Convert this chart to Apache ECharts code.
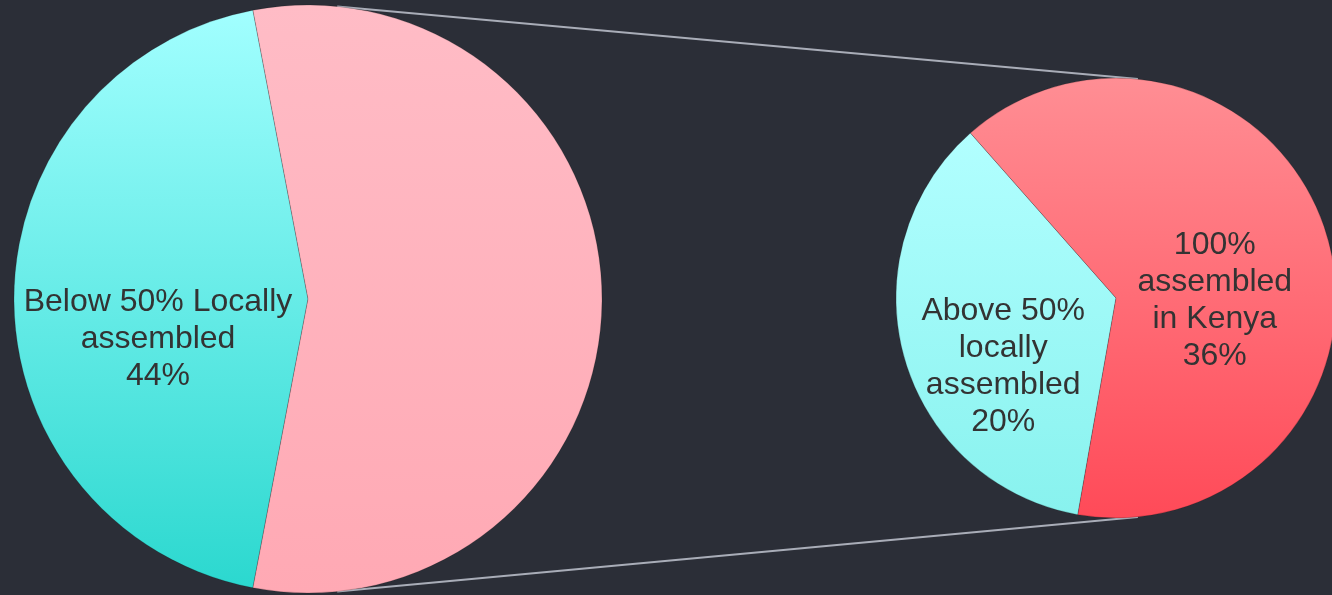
<!DOCTYPE html>
<html style="height: 100%">
<head>
  <meta charset="UTF-8">
  <title>pie of pie</title>
  <script src="https://cdn.jsdelivr.net/npm/echarts@6/dist/echarts.min.js"></script>
</head>
<body style="height: 100%; margin: 0; background: #2b2e37">
<div id="container" style="width: 1332px; height: 595px"></div>
<script type="text/javascript">
  // main pie
  var mainNames = ['Below 50% Locally\nassembled', ''];
  var mainValues = [44, 56];
  // breakdown of the 56% slice
  var subNames = ['Above 50%\nlocally\nassembled', '100%\nassembled\nin Kenya'];
  var subValues = [20, 36];

  var mainCenter = [308, 299], mainR = 294;
  var subCenter = [1116, 298], subR = 220;

  function grad(top, bottom) {
    return new echarts.graphic.LinearGradient(0, 0, 0, 1, [
      { offset: 0, color: top },
      { offset: 1, color: bottom }
    ]);
  }

  // connector lines, from pie edges a few degrees off vertical
  var a = 5.7 * Math.PI / 180;
  function edge(c, r, up) {
    return [c[0] + r * Math.sin(a), c[1] + (up ? -1 : 1) * r * Math.cos(a)];
  }
  var t1 = edge(mainCenter, mainR, true), t2 = edge(subCenter, subR, true);
  var b1 = edge(mainCenter, mainR, false), b2 = edge(subCenter, subR, false);

  var chart = echarts.init(document.getElementById('container'), null, { renderer: 'canvas' });

  var labelStyle = {
    show: true,
    position: 'inside',
    formatter: function (p) {
      return p.name ? p.name + '\n' + p.value + '%' : '';
    },
    color: '#333333',
    fontFamily: '"Liberation Sans", Arial, sans-serif',
    fontSize: 32,
    lineHeight: 37,
    align: 'center'
  };

  var subColors = [grad('#b2ffff', '#88f2ee'), grad('#ff8e94', '#ff4a58')];
  var subOffsets = [[-4, 38], [-10, 33]];

  var option = {
    backgroundColor: '#2b2e37',
    animation: false,
    graphic: [
      { type: 'line', z: -1, shape: { x1: t1[0], y1: t1[1], x2: t2[0], y2: t2[1] }, style: { stroke: '#a9adb8', lineWidth: 2 } },
      { type: 'line', z: -1, shape: { x1: b1[0], y1: b1[1], x2: b2[0], y2: b2[1] }, style: { stroke: '#a9adb8', lineWidth: 2 } }
    ],
    series: [
      {
        type: 'pie',
        center: mainCenter,
        radius: [0, mainR],
        // first slice centred on 9 o'clock
        startAngle: 180 + mainValues[0] / 100 * 180,
        clockwise: true,
        silent: true,
        label: Object.assign({}, labelStyle, { offset: [0, 40] }),
        labelLine: { show: false },
        itemStyle: { borderColor: 'rgba(0,0,0,0.18)', borderWidth: 1 },
        data: mainValues.map(function (v, i) {
          return {
            name: mainNames[i],
            value: v,
            itemStyle: { color: i === 0 ? grad('#a2ffff', '#2bd8cf') : grad('#ffbcc6', '#ffa9b4') }
          };
        })
      },
      {
        type: 'pie',
        center: subCenter,
        radius: [0, subR],
        startAngle: 260,
        clockwise: true,
        silent: true,
        label: labelStyle,
        labelLine: { show: false },
        itemStyle: { borderColor: 'rgba(0,0,0,0.18)', borderWidth: 1 },
        data: subValues.map(function (v, i) {
          return {
            name: subNames[i],
            value: v,
            label: { offset: subOffsets[i] },
            itemStyle: { color: subColors[i] }
          };
        })
      }
    ]
  };
  chart.setOption(option);
  window.addEventListener('resize', chart.resize);
</script>
</body>
</html>
